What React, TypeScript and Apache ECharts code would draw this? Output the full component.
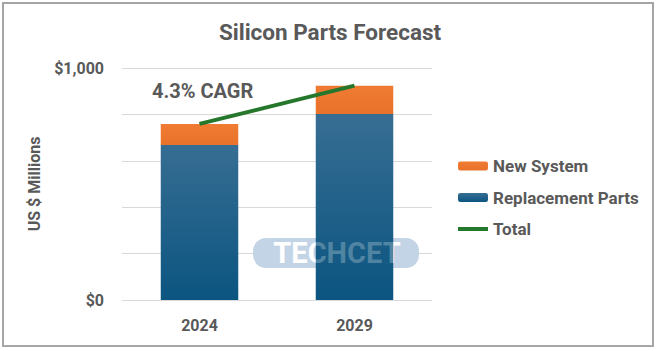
import React, { useEffect, useRef } from "react";
import * as echarts from "echarts";

const categories = ["2024", "2029"];
const replacementParts = [668, 802];
const newSystem = [91, 122];
const totals = [759, 924];
const yTickLabels: Record<number, string> = { 0: "$0", 1000: "$1,000" };
const titleText = "Silicon Parts Forecast";
const cagrText = "4.3% CAGR";
const yAxisName = "US $ Millions";
const watermark = "TECHCET";

const FONT = "Roboto, 'Liberation Sans', sans-serif";
const GRAY = "#595959";

const watermarkText = (fill: string, z: number) => ({
  type: "text",
  x: 337,
  y: 253,
  z,
  silent: true,
  style: {
    text: watermark,
    fontFamily: FONT,
    fontSize: 29,
    fontWeight: "bold",
    fill,
    align: "center",
    verticalAlign: "middle",
  },
});

export default function App() {
  const ref = useRef<HTMLDivElement>(null);
  useEffect(() => {
    if (!ref.current) return;
    const chart = echarts.init(ref.current, undefined, { renderer: "svg" });
    chart.setOption({
      animation: false,
      backgroundColor: "#ffffff",
      textStyle: { fontFamily: FONT },
      title: {
        text: titleText,
        left: "center",
        top: 15,
        textStyle: { fontFamily: FONT, fontSize: 22.5, fontWeight: "bold", color: GRAY },
      },
      grid: { left: 122, right: 228, top: 68, bottom: 51 },
      legend: {
        orient: "vertical",
        left: 456,
        top: 156,
        padding: 0,
        itemWidth: 30,
        itemHeight: 9,
        itemGap: 11.5,
        data: [
          "New System",
          "Replacement Parts",
          { name: "Total", itemStyle: { opacity: 0 }, lineStyle: { width: 4, color: "#25772b" } },
        ],
        textStyle: { fontFamily: FONT, fontSize: 17, fontWeight: "bold", color: GRAY, lineHeight: 20 },
        itemStyle: { borderWidth: 0 },
      },
      xAxis: {
        type: "category",
        data: categories,
        axisLine: { show: false },
        axisTick: { show: false },
        axisLabel: { margin: 17, fontFamily: FONT, fontSize: 16, fontWeight: "bold", color: GRAY },
      },
      yAxis: {
        type: "value",
        min: 0,
        max: 1000,
        interval: 200,
        name: yAxisName,
        nameLocation: "middle",
        nameRotate: 90,
        nameGap: 80,
        nameTextStyle: { fontFamily: FONT, fontSize: 16, fontWeight: "bold", color: GRAY },
        axisLine: { show: false },
        axisTick: { show: false },
        splitLine: { lineStyle: { color: "#d9d9d9", width: 1 } },
        axisLabel: {
          margin: 18,
          fontFamily: FONT,
          fontSize: 16,
          fontWeight: "bold",
          color: GRAY,
          formatter: (v: number) => yTickLabels[v] ?? "",
        },
      },
      series: [
        {
          name: "Replacement Parts",
          type: "bar",
          stack: "a",
          barWidth: "50%",
          z: 3,
          data: replacementParts,
          itemStyle: {
            color: new echarts.graphic.LinearGradient(0, 0, 0, 1, [
              { offset: 0, color: "#376d93" },
              { offset: 1, color: "#0b5580" },
            ]),
          },
        },
        {
          name: "New System",
          type: "bar",
          stack: "a",
          barWidth: "50%",
          z: 3,
          data: newSystem,
          itemStyle: {
            color: new echarts.graphic.LinearGradient(0, 0, 0, 1, [
              { offset: 0, color: "#f07b32" },
              { offset: 1, color: "#e9722b" },
            ]),
          },
        },
        {
          name: "Total",
          type: "line",
          data: totals,
          symbol: "none",
          z: 5,
          lineStyle: { color: "#25772b", width: 4 },
          itemStyle: { color: "#25772b" },
        },
      ],
      graphic: [
        {
          type: "rect",
          shape: { x: 3, y: 3, width: 650, height: 343 },
          style: { fill: "none", stroke: "#a6a6a6", lineWidth: 2 },
          silent: true,
          z: 10,
        },
        {
          type: "text",
          x: 152,
          y: 81,
          z: 10,
          style: { text: cagrText, fontFamily: FONT, fontSize: 20, fontWeight: "bold", fill: GRAY },
        },
        {
          type: "rect",
          shape: { x: 253, y: 238, width: 166, height: 30, r: 13 },
          style: { fill: "#c3d4e7" },
          silent: true,
          z: 1,
        },
        watermarkText("#ffffff", 1),
        watermarkText("rgba(255,255,255,0.25)", 6),
      ],
    });
    return () => chart.dispose();
  }, []);
  return (
    <div
      ref={ref}
      style={{ position: "fixed", left: 0, top: 0, width: 660, height: 351 }}
    />
  );
}
